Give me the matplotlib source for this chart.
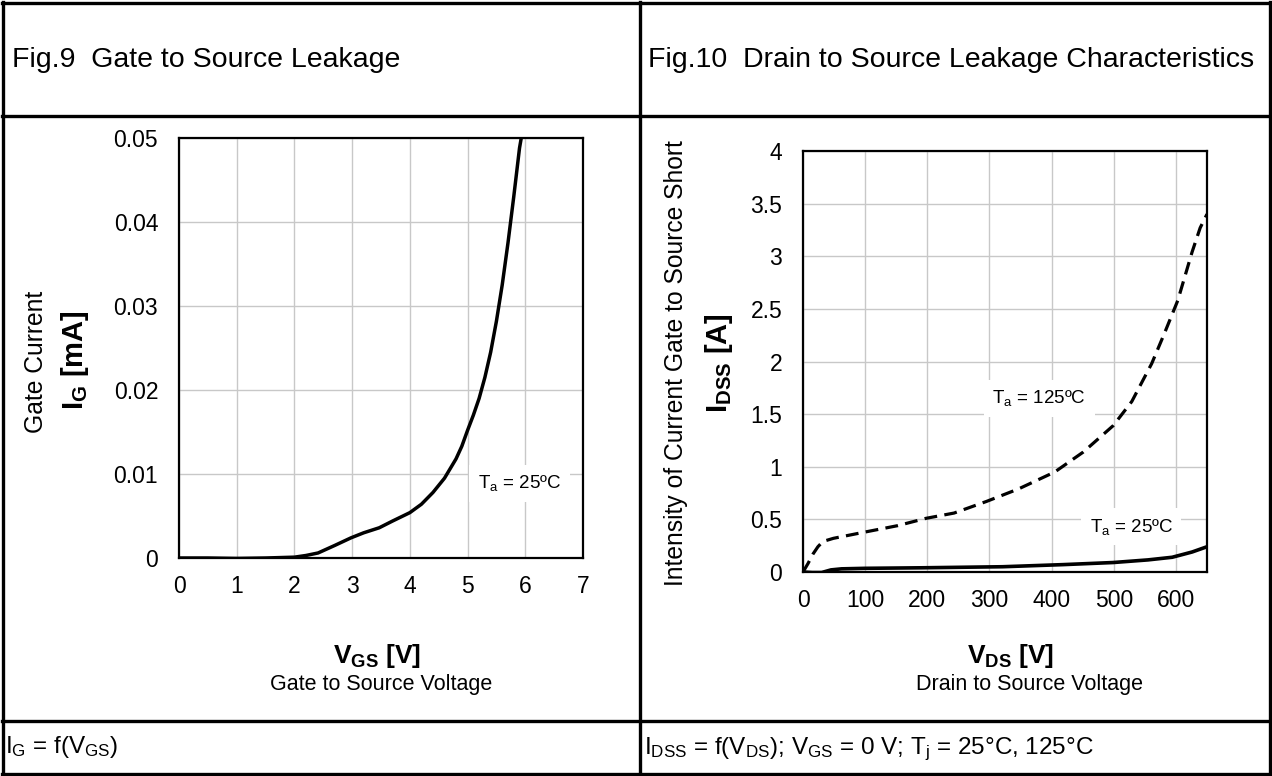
import numpy as np
import matplotlib
matplotlib.use('Agg')
import matplotlib.pyplot as plt
from matplotlib.lines import Line2D

plt.rcParams['font.family'] = ['Liberation Sans', 'DejaVu Sans']
plt.rcParams['mathtext.fontset'] = 'custom'
plt.rcParams['mathtext.rm'] = 'Liberation Sans'
plt.rcParams['mathtext.it'] = 'Liberation Sans'
plt.rcParams['mathtext.bf'] = 'Liberation Sans:bold'
plt.rcParams['mathtext.default'] = 'regular'

# Fig.9 : gate current vs gate-source voltage (Ta = 25 C)
vgs = [0, 0.5, 1.0, 1.5, 2.0, 2.2, 2.41, 2.7, 2.98, 3.2, 3.47, 3.7, 4.0,
       4.2, 4.4, 4.6, 4.8, 4.9, 5.0, 5.1, 5.2, 5.3, 5.4, 5.5, 5.6, 5.7,
       5.8, 5.9, 5.93]
ig = [0, 0.0, -0.00005, 0.0, 0.0001, 0.0003, 0.0006, 0.0015, 0.0024, 0.003,
      0.0036, 0.0044, 0.0054, 0.0064, 0.0078, 0.0095, 0.0118, 0.0133, 0.0152,
      0.0170, 0.0190, 0.0215, 0.0245, 0.0282, 0.0325, 0.0375, 0.0430, 0.0488,
      0.05]
ig_ticks = [0, 0.01, 0.02, 0.03, 0.04, 0.05]
ig_ticklabels = ['0', '0.01', '0.02', '0.03', '0.04', '0.05']
vgs_ticks = [0, 1, 2, 3, 4, 5, 6, 7]

# Fig.10 : drain leakage vs drain-source voltage
vds_125 = [0, 8, 16, 24, 32, 49, 100, 152, 198, 243, 295, 347, 405, 451, 499,
           529, 561, 581, 603, 626, 639, 650]
idss_125 = [0, 0.08, 0.17, 0.24, 0.29, 0.32, 0.38, 0.44, 0.51, 0.56, 0.67,
            0.79, 0.95, 1.14, 1.39, 1.62, 1.98, 2.26, 2.58, 3.04, 3.27, 3.4]
vds_25 = [0, 15, 30, 45, 62, 100, 191, 321, 418, 499, 555, 594, 626, 650]
idss_25 = [0, -0.005, -0.005, 0.02, 0.03, 0.035, 0.04, 0.05, 0.07, 0.09,
           0.115, 0.14, 0.19, 0.24]
idss_ticks = [0, 0.5, 1, 1.5, 2, 2.5, 3, 3.5, 4]
idss_ticklabels = ['0', '0.5', '1', '1.5', '2', '2.5', '3', '3.5', '4']
vds_ticks = [0, 100, 200, 300, 400, 500, 600]

W, H = 1272, 776
fig = plt.figure(figsize=(W / 100, H / 100), dpi=100)


def fx(px):
    return px / W


def fy(py):
    return 1 - py / H


def hline(y, x0=2, x1=1270):
    fig.add_artist(Line2D([fx(x0), fx(x1)], [fy(y), fy(y)],
                          transform=fig.transFigure, color='k', lw=2.4))


def vline(x, y0=2, y1=774):
    fig.add_artist(Line2D([fx(x), fx(x)], [fy(y0), fy(y1)],
                          transform=fig.transFigure, color='k', lw=2.4))


# table frame
hline(2.5)
hline(773.5)
hline(116)
hline(721)
vline(2.5)
vline(1269.5)
vline(640)


def style_axes(ax):
    for s in ax.spines.values():
        s.set_linewidth(1.6)
        s.set_color('k')
    ax.grid(True, color='#c8c8c8', lw=1.0)
    ax.set_axisbelow(True)
    ax.tick_params(axis='both', length=0, labelsize=16.5)
    ax.tick_params(axis='y', pad=15)
    ax.tick_params(axis='x', pad=12)


# left chart
ax1 = fig.add_axes([fx(179), fy(558), 404 / W, 420 / H])
ax1.plot(vgs, ig, color='k', lw=2.5)
ax1.set_xlim(0, 7)
ax1.set_ylim(0, 0.05)
ax1.set_xticks(vgs_ticks)
ax1.set_yticks(ig_ticks)
ax1.set_yticklabels(ig_ticklabels)
style_axes(ax1)
ax1.text(5.9, 0.0089, 'T$_a$ = 25ºC', ha='center', va='center', fontsize=13.5,
         bbox=dict(boxstyle='square,pad=0.45', fc='white', ec='none'), zorder=3)

# right chart
ax2 = fig.add_axes([fx(803), fy(572), 404 / W, 421 / H])
ax2.plot(vds_125, idss_125, color='k', lw=2.3, dashes=(4, 2.3))
ax2.plot(vds_25, idss_25, color='k', lw=2.6)
ax2.set_xlim(0, 650)
ax2.set_ylim(0, 4)
ax2.set_xticks(vds_ticks)
ax2.set_yticks(idss_ticks)
ax2.set_yticklabels(idss_ticklabels)
style_axes(ax2)
ax2.text(380, 1.65, 'T$_a$ = 125ºC', ha='center', va='center', fontsize=13.5,
         bbox=dict(boxstyle='square,pad=0.45', fc='white', ec='none'), zorder=3)
ax2.text(528, 0.43, 'T$_a$ = 25ºC', ha='center', va='center', fontsize=13.5,
         bbox=dict(boxstyle='square,pad=0.45', fc='white', ec='none'), zorder=3)

# titles
fig.text(fx(12), fy(67), 'Fig.9  Gate to Source Leakage', fontsize=20.5,
         va='baseline', ha='left')
fig.text(fx(648), fy(67), 'Fig.10  Drain to Source Leakage Characteristics',
         fontsize=20.5, va='baseline', ha='left')

# y labels
fig.text(fx(36), fy(362), 'Gate Current', rotation=90, fontsize=17.7,
         ha='center', va='center')
fig.text(fx(75), fy(360), 'I$_G$ [mA]', rotation=90, fontsize=21,
         fontweight='bold', ha='center', va='center')
fig.text(fx(676), fy(363), 'Intensity of Current Gate to Source Short',
         rotation=90, fontsize=17.7, ha='center', va='center')
fig.text(fx(719), fy(363), 'I$_{DSS}$ [A]', rotation=90, fontsize=21,
         fontweight='bold', ha='center', va='center')

# x labels
fig.text(fx(377), fy(663), 'V$_{GS}$ [V]', fontsize=19, fontweight='bold',
         ha='center', va='baseline')
fig.text(fx(381), fy(690), 'Gate to Source Voltage', fontsize=15.5,
         ha='center', va='baseline')
fig.text(fx(1011), fy(663), 'V$_{DS}$ [V]', fontsize=19, fontweight='bold',
         ha='center', va='baseline')
fig.text(fx(1030), fy(690), 'Drain to Source Voltage', fontsize=15.5,
         ha='center', va='baseline')

# footers
fig.text(fx(5), fy(753), 'I$_G$ = f(V$_{GS}$)', fontsize=17.5, va='baseline')
fig.text(fx(644), fy(754),
         'I$_{DSS}$ = f(V$_{DS}$); V$_{GS}$ = 0 V; T$_j$ = 25°C, 125°C',
         fontsize=17.5, va='baseline')

fig.savefig('out.png', dpi=100)
